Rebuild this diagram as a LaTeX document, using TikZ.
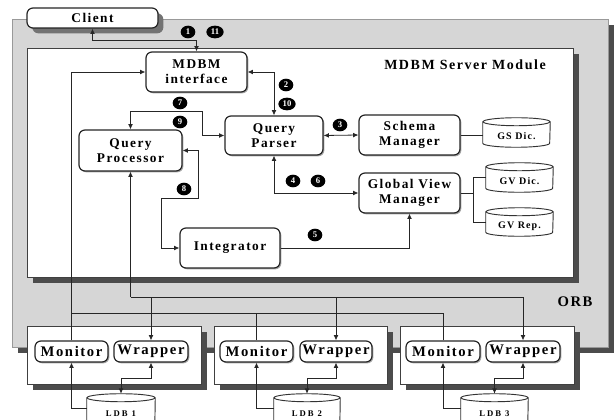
\documentclass[tikz,border=0pt]{standalone}
\usepackage{fontspec}
\setmainfont{Liberation Serif}
\newfontfamily\spaced{Liberation Serif}[LetterSpace=11]
\newfontfamily\wide{Liberation Serif}[LetterSpace=22]
\usetikzlibrary{arrows.meta,shapes.geometric,shadows,calc}

\tikzset{
  wh/.style 2 args={minimum width=#1*0.75pt, minimum height=#2*0.75pt},
  link/.style={line width=0.6pt, draw=black!85},
  one/.style={link, -{Latex[length=4pt,width=3.6pt]}},
  both/.style={link, {Latex[length=4pt,width=3.6pt]}-{Latex[length=4pt,width=3.6pt]}},
  module/.style={draw=black!85, line width=0.9pt, fill=white, rounded corners=4.5pt,
    inner sep=1pt, align=center,
    font=\spaced\bfseries\fontsize{10}{11.5}\selectfont,
    drop shadow={shadow xshift=1pt, shadow yshift=-1pt, fill=black!35, opacity=1}},
  part/.style={module, font=\spaced\bfseries\fontsize{11}{12}\selectfont},
  clientbox/.style={module, drop shadow={shadow xshift=4pt, shadow yshift=-4pt, fill=black!55, opacity=1}},
  frame/.style={draw=black!75, line width=0.6pt, fill=white, inner sep=0pt,
    drop shadow={shadow xshift=4.5pt, shadow yshift=-4.5pt, fill=black!70, opacity=1}},
  orbframe/.style={frame, fill=black!16, draw=black!40},
  heading/.style={font=\spaced\bfseries\fontsize{10.5}{12}\selectfont, inner sep=0pt},
  store/.style={inner sep=0pt, font=\spaced\bfseries\fontsize{7.5}{8}\selectfont},
  ldb/.style={inner sep=0pt, font=\wide\bfseries\fontsize{6.5}{7}\selectfont},
  cylline/.style={draw=black!80, line width=0.7pt},
  badge/.style={ellipse, fill=black, text=white, inner sep=0pt,
    minimum width=11pt, minimum height=9.5pt,
    font=\bfseries\fontsize{6.5}{6.5}\selectfont},
  badgew/.style={badge, minimum width=13pt}
}

% database drum drawn round a node: #1 node, #2 half width
\newcommand\dbcyl[2]{%
  \draw[cylline] ([yshift=-3pt]#1.north west) -- ([yshift=3pt]#1.south west)
     arc[start angle=180, end angle=360, x radius=#2, y radius=3pt]
     -- ([yshift=-3pt]#1.north east);
  \draw[cylline] ([yshift=-3pt]#1.north) ellipse[x radius=#2, y radius=3pt];
}

\begin{document}
\begin{tikzpicture}[x=0.75pt, y=0.75pt]
\useasboundingbox (0,0) rectangle (616,-420);
\clip (0,0) rectangle (616,-420);

% ORB backplane and server module
\node[orbframe, wh={596}{328}] (orb) at (310,-183) {};
\node[frame, wh={546}{229}] (server) at (300,-162.5) {};
\node[heading] (srvtitle) at (465,-65) {MDBM Server Module};
\node[heading, font=\spaced\bfseries\fontsize{11}{12}\selectfont] (orbtitle) at (575,-302) {ORB};

% client
\node[clientbox, wh={131}{20}] (client) at (92.5,-18) {Client};

% local database hosts
\node[frame, wh={174}{58}] (host1) at (114,-355) {};
\node[frame, wh={173}{58}] (host2) at (300.5,-355) {};
\node[frame, wh={174}{58}] (host3) at (487,-355) {};

\node[part, wh={73}{21}] (mon1) at (71.5,-351.5) {Monitor};
\node[part, wh={74}{21}] (wr1) at (151,-351.5) {Wrapper};
\node[part, wh={73}{21}] (mon2) at (256.5,-351.5) {Monitor};
\node[part, wh={72}{21}] (wr2) at (336,-351.5) {Wrapper};
\node[part, wh={74}{21}] (mon3) at (443,-351.5) {Monitor};
\node[part, wh={74}{21}] (wr3) at (523,-351.5) {Wrapper};

\node[ldb, wh={68}{40}] (ldb1) at (121,-414) {LDB 1};
\node[ldb, wh={66}{40}] (ldb2) at (307,-414) {LDB 2};
\node[ldb, wh={67}{40}] (ldb3) at (494.5,-414) {LDB 3};
\dbcyl{ldb1}{25.5pt}
\dbcyl{ldb2}{24.75pt}
\dbcyl{ldb3}{25.1pt}

% server components
\node[module, wh={101}{40}] (mdbm) at (196.5,-72) {MDBM\\interface};
\node[module, wh={98}{39}] (parser) at (274,-135.5) {Query\\Parser};
\node[module, wh={103}{41}] (proc) at (130.5,-150.5) {Query\\Processor};
\node[module, wh={101}{40}] (schema) at (409.5,-135) {Schema\\Manager};
\node[module, wh={101}{40}] (gvm) at (409.5,-193) {Global View\\Manager};
\node[module, wh={100}{40}] (integ) at (230,-248) {Integrator};

\node[store, wh={67}{29}] (gs) at (516.5,-132.5) {\raisebox{-2.5pt}[6pt][1pt]{GS Dic.}};
\node[store, wh={67}{29}] (gvd) at (519.5,-177.5) {\raisebox{-2.5pt}[6pt][1pt]{GV Dic.}};
\node[store, wh={67}{28}] (gvr) at (519.5,-222) {\raisebox{-2.5pt}[6pt][1pt]{GV Rep.}};
\dbcyl{gs}{25.1pt}
\dbcyl{gvd}{25.1pt}
\dbcyl{gvr}{25.1pt}

% request flow
\draw[both] (client.south) |- ($(mdbm.north)+(0,11)$) -- (mdbm.north);
\draw[both] (mdbm.east) -| (parser.north);
\draw[both] (parser.east) -- (schema.west);
\coordinate (k4) at (202,-111);
\draw[both] (proc.north) |- (k4) |- (parser.west);
\coordinate (k1) at (198,-198);
\coordinate (k2) at (161,-198);
\draw[both] (proc.east) -| (k1) -- (k2) |- (integ.west);
\draw[both] (parser.south) |- (gvm.west);
\draw[one] (integ.east) -| (gvm.south);

% dictionaries
\draw[link] (schema.east) -- (gs.west |- schema.east);
\coordinate (gvsplit) at (473,-193);
\draw[link] (gvm.east) -- (gvsplit);
\draw[link] (gvsplit |- gvd.west) -- (gvsplit |- gvr.west);
\draw[link] (gvsplit |- gvd.west) -- (gvd.west);
\draw[link] (gvsplit |- gvr.west) -- (gvr.west);

% ORB buses
\coordinate (busW) at (130.5,-297);
\draw[one] (busW) -- (proc.south);
\draw[one] (busW) -| (wr3.north);
\draw[one] (busW -| wr1.north) -- (wr1.north);
\draw[one] (busW -| wr2.north) -- (wr2.north);
\coordinate (busM) at (71.5,-313);
\draw[one] (mon1.north) |- (mdbm.west);
\draw[link] (mon3.north) |- (busM);
\draw[link] (mon2.north) -- (mon2.north |- busM);

% local access
\draw[both] (wr1.south) -- ++(0,-16) -| (ldb1.north);
\draw[both] (wr2.south) -- ++(0,-16) -| (ldb2.north);
\draw[both] (wr3.south) -- ++(0,-16) -| (ldb3.north);
\draw[one] ($(ldb1.north west)+(0,-15)$) -| (mon1.south);
\draw[one] ($(ldb2.north west)+(0,-15)$) -| (mon2.south);
\draw[one] ($(ldb3.north west)+(0,-15)$) -| (mon3.south);

% step numbers
\node[badge] (s1) at (188,-32) {1};
\node[badgew] (s11) at (215,-32) {11};
\node[badge] (s2) at (286,-85) {2};
\node[badgew] (s10) at (287,-104) {10};
\node[badge] (s3) at (340,-125) {3};
\node[badge] (s4) at (293,-181) {4};
\node[badge] (s6) at (318,-181) {6};
\node[badge] (s5) at (315,-235) {5};
\node[badge] (s7) at (180,-103) {7};
\node[badge] (s9) at (180,-122) {9};
\node[badge] (s8) at (184,-189) {8};
\end{tikzpicture}
\end{document}
